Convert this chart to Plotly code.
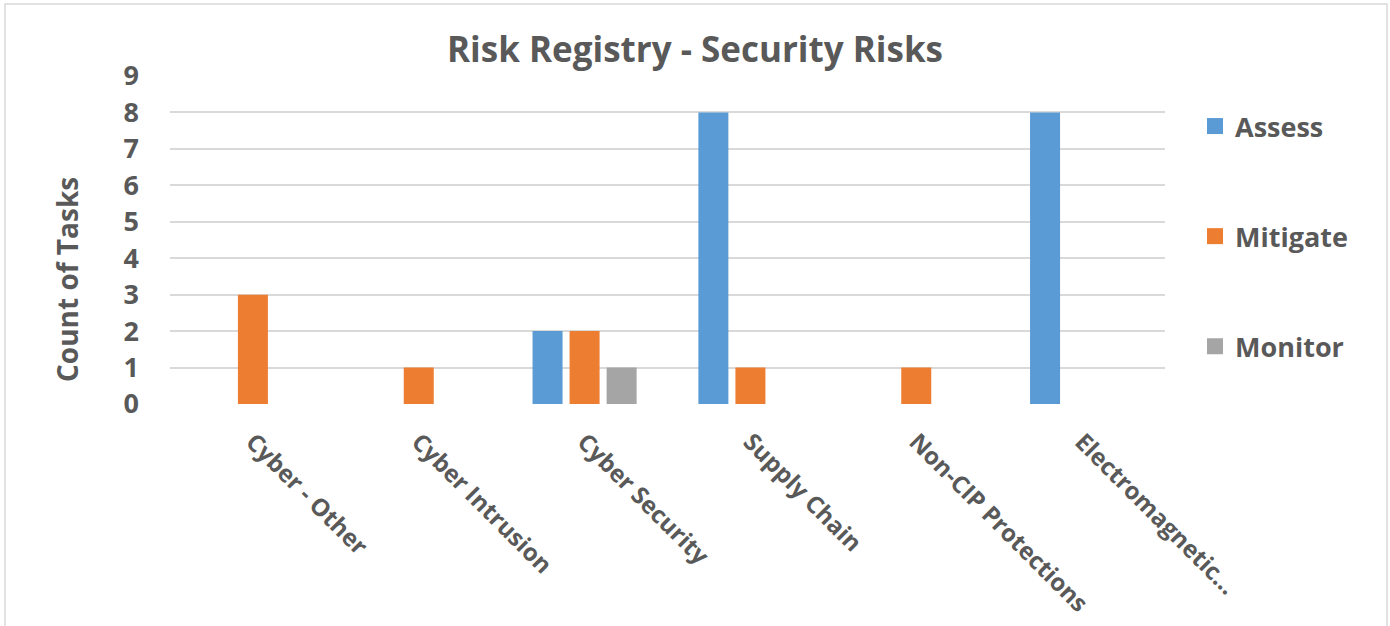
import plotly.graph_objects as go

categories = ["Cyber - Other", "Cyber Intrusion", "Cyber Security", "Supply Chain",
              "Non-CIP Protections", "Electromagnetic..."]
assess = [0, 0, 2, 8, 0, 8]
mitigate = [3, 1, 2, 1, 1, 0]
monitor = [0, 0, 1, 0, 0, 0]
series_names = ["Assess", "Mitigate", "Monitor"]
colors = ["#5B9BD5", "#ED7D31", "#A5A5A5"]
y_ticks = list(range(0, 10))

W, H = 1390, 626
L, R, T, B = 170, 225, 76, 222
PW, PH = W - L - R, H - T - B
TXT = "#595959"
FONT = "Open Sans"

def px_x(p):
    return (p - L) / PW

def px_y(p):
    return (H - B - p) / PH

fig = go.Figure()
for name, vals, c in zip(series_names, [assess, mitigate, monitor], colors):
    fig.add_trace(go.Bar(x=categories, y=vals, name=name, marker_color=c,
                         marker_line_width=0, showlegend=False, legendgroup=name))
for name, c in zip(series_names, colors):
    fig.add_trace(go.Scatter(x=[None], y=[None], mode="markers", name=name, legendgroup=name,
                             marker=dict(symbol="square", size=18, color=c)))

fig.update_layout(
    width=W, height=H,
    margin=dict(l=L, r=R, t=T, b=B, autoexpand=False),
    paper_bgcolor="white", plot_bgcolor="white",
    barmode="group", bargap=0.33, bargroupgap=0.19,
    font=dict(family=FONT, color=TXT, weight="bold"),
    title=dict(text="Risk Registry - Security Risks", x=0.5, xanchor="center",
               y=1 - 50 / H, yanchor="middle",
               font=dict(size=35, color=TXT, family=FONT, weight="bold")),
    legend=dict(x=px_x(1195), xanchor="left", y=px_y(102), yanchor="top",
                font=dict(size=27, color=TXT, family=FONT, weight="bold"), tracegroupgap=72,
                itemwidth=30, bgcolor="rgba(0,0,0,0)"),
    showlegend=True,
)
fig.update_yaxes(range=[0, 9], tickvals=y_ticks, showgrid=True, gridcolor="#D9D9D9",
                 gridwidth=1.5, zeroline=False, showline=False, automargin=False,
                 tickfont=dict(size=27, color=TXT, family=FONT, weight="bold"),
                 ticklabelstandoff=30, fixedrange=True)
fig.update_xaxes(tickangle=45, showgrid=False, showline=False, zeroline=False, automargin=False,
                 tickfont=dict(size=24, color=TXT, family=FONT, weight="bold"),
                 ticklabelstandoff=18)
fig.add_annotation(text="Count of Tasks", xref="paper", yref="paper",
                   x=px_x(67), y=px_y(280), xanchor="center", yanchor="middle",
                   textangle=-90, showarrow=False,
                   font=dict(size=28, color=TXT, family=FONT, weight="bold"))
fig.add_shape(type="rect", xref="paper", yref="paper",
              x0=px_x(5), x1=px_x(1387), y0=px_y(640), y1=px_y(4),
              line=dict(color="#D9D9D9", width=1.5), layer="below")
fig.write_html("out.html")
